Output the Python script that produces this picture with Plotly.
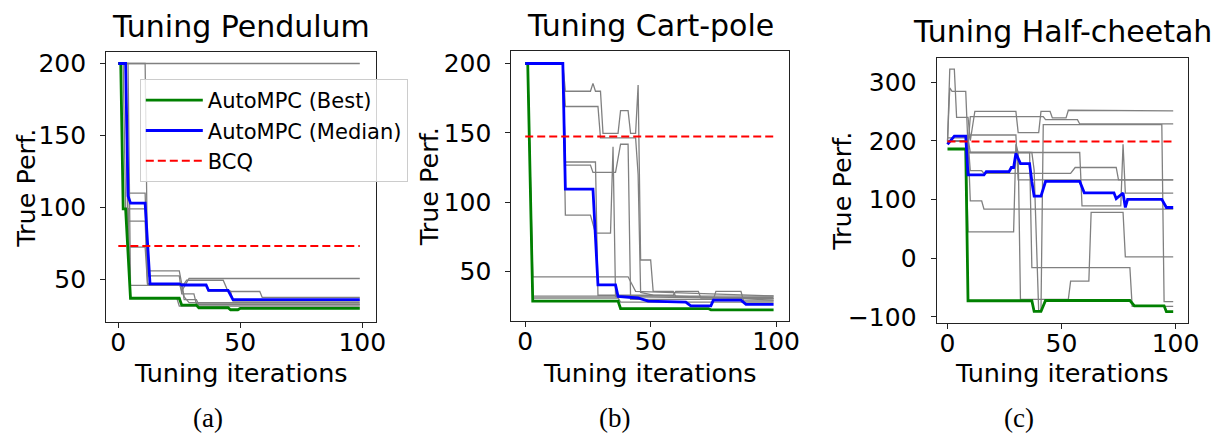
import plotly.graph_objects as go

W, H = 1220, 434

# ---------------- data ----------------
iter_first, iter_last = 0, 99
tick_x = [0, 50, 100]

# Pendulum
pend_best_x = [0, 1, 2, 3, 5, 25, 26, 32, 33, 45, 46, 49, 50, 99]
pend_best_y = [200, 200, 99, 99, 37, 37, 32.2, 32.2, 30.4, 30.4, 29, 29, 30, 30]
pend_med_x = [0, 3, 4, 5, 11, 13, 25, 26, 36, 37, 45, 47, 99]
pend_med_y = [200, 200, 108, 103, 103, 47, 47, 46.2, 46.2, 42.4, 42.4, 36, 36]
pend_bcq = 73.3
pend_runs_x = [
    [0, 99],
    [0, 11, 12, 25, 27, 29, 99],
    [0, 3, 4, 11, 12, 25, 26, 29, 99],
    [0, 3, 4, 11, 12, 27, 28, 43, 45, 58, 59, 99],
    [0, 2, 3, 11, 12, 25, 26, 31, 32, 99],
    [0, 4, 5, 26, 27, 32, 33, 99],
    [0, 1, 2, 4, 5, 24, 25, 99],
    [0, 3, 4, 11, 12, 36, 37, 46, 47, 99],
]
pend_runs_y = [
    [200, 200],
    [200, 200, 56, 56, 38, 34, 34],
    [200, 200, 110, 110, 47, 47, 42, 50.7, 50.7],
    [200, 200, 90.5, 90.5, 47, 47, 49.5, 49.5, 41.7, 41.7, 37.6, 37.6],
    [200, 200, 99, 99, 52.5, 52.5, 40, 40, 33, 33],
    [200, 200, 46, 46, 36, 36, 32.5, 32.5],
    [200, 200, 99, 99, 37, 37, 31.5, 31.5],
    [200, 200, 72.5, 72.5, 46.5, 46.5, 42, 42, 35, 35],
]
pend_yticks = [50, 100, 150, 200]

# Cart-pole
cart_best_x = [0, 1, 3, 37, 38, 73, 74, 99]
cart_best_y = [200, 200, 28.8, 28.8, 23.4, 23.4, 22.5, 22.5]
cart_med_x = [0, 15, 16, 27, 29, 36, 37, 45, 49, 64, 66, 74, 75, 86, 88, 99]
cart_med_y = [200, 200, 109.4, 109.4, 40.4, 40.4, 32.2, 31, 28.8, 28.1, 25.3, 25.3, 29.5, 29.5, 26.4, 26.4]
cart_bcq = 147.4
cart_runs_x = [
    [0, 15, 16, 26, 27, 28, 30, 31, 37, 38, 41, 42, 44, 45, 46, 50, 51, 59, 60, 99],
    [0, 15, 16, 29, 30, 44, 45, 46, 51, 99],
    [0, 15, 16, 28, 29, 59, 60, 69, 70, 99],
    [0, 15, 16, 26, 27, 36, 38, 41, 42, 75, 76, 86, 87, 99],
    [0, 15, 16, 26, 28, 34, 35, 36, 99],
    [0, 1, 3, 41, 44, 99],
    [0, 1, 3, 99],
    [0, 1, 3, 37, 38, 99],
]
cart_runs_y = [
    [200, 200, 180, 180, 185.7, 180, 180, 149.7, 149.7, 166, 166, 149.7, 149.7, 184.5, 58.4, 58.4, 35.8, 35.8, 32, 30.5],
    [200, 200, 169, 169, 146.4, 146.4, 120, 35, 33, 29.5],
    [200, 200, 129, 129, 33, 33, 35.8, 35.8, 31, 31.5],
    [200, 200, 126.8, 126.8, 121.5, 121.5, 141.8, 141.8, 30, 30, 35.8, 35.8, 29, 29],
    [200, 200, 90.7, 90.7, 77.8, 77.8, 140, 32, 30.5],
    [200, 200, 46.3, 46.3, 35.8, 32.5],
    [200, 200, 32.3, 32.3],
    [200, 200, 31, 31, 28, 28],
]
cart_yticks = [50, 100, 150, 200]

# Half-cheetah
chee_best_x = [0, 8, 9, 37, 38, 41, 43, 80, 82, 95, 96, 99]
chee_best_y = [186, 186, -72.4, -72.4, -90.6, -90.6, -72, -72, -81, -81, -91, -91]
chee_med_x = [0, 3, 8, 9, 16, 17, 27, 28, 29, 30, 32, 36, 37, 38, 41, 43, 58, 60, 73, 74, 77, 78, 79, 94, 96, 99]
chee_med_y = [194, 208, 208, 141.8, 141.8, 147.3, 147.3, 154.5, 154.5, 178.8, 161, 161, 130.7, 105.8, 105.8, 130.7, 130.7, 111.3, 111.3, 101.4, 111, 86.4, 100.3, 100.3, 86.4, 86.4]
chee_bcq = 198.7
chee_runs_x = [
    [0, 1, 3, 4, 9, 10, 12, 30, 31, 40, 41, 45, 46, 52, 53, 72, 73, 99],
    [0, 1, 2, 8, 9, 10, 42, 43, 57, 58, 99],
    [0, 8, 9, 29, 30, 31, 32, 53, 54, 62, 63, 77, 78, 99],
    [0, 8, 9, 36, 37, 80, 81, 99],
    [0, 9, 10, 15, 16, 54, 56, 74, 75, 99],
    [0, 9, 10, 15, 16, 99],
    [0, 9, 10, 30, 31, 99],
    [0, 8, 9, 37, 38, 40, 41, 42, 94, 95, 99],
    [0, 9, 10, 58, 59, 76, 77, 78, 99],
]
chee_runs_y = [
    [195, 322, 322, 240, 240, 200, 250, 250, 214, 214, 250, 250, 239, 239, 252, 252, 251, 251],
    [200, 290, 284, 284, 190, 241, 241, 236, 236, 228.6, 228.6],
    [200, 200, 45, 45, 194, 180, -70, -70, -39, -39, 78, 78, 2.3, 2.3],
    [200, 200, 180, 180, -16, -16, -82, -82],
    [200, 200, 149, 149, 144.5, 144.5, 154.5, 154.5, 133.5, 133.5],
    [200, 200, 97.5, 97.5, 83.7, 83.7],
    [200, 200, 209.8, 209.8, 133.5, 133.5],
    [200, 200, 180, 180, 150, -90, -90, 227.5, 227.5, -74, -74],
    [205, 205, 180, 180, 89, 89, 194, 111, 111],
]
chee_yticks = [-100, 0, 100, 200, 300]

titles = ["Tuning Pendulum", "Tuning Cart-pole", "Tuning Half-cheetah"]
captions = ["(a)", "(b)", "(c)"]
series_names = ["AutoMPC (Best)", "AutoMPC (Median)", "BCQ"]
x_label = "Tuning iterations"
y_label = "True Perf."

# ---------------- layout geometry (pixels) ----------------
panels = [
    dict(px=(99, 371), py=(42, 320), xr=[-5.0, 105.5], yr=[20.4, 208.1], ylab_x=18, cap_x=202),
    dict(px=(508, 788), py=(41, 319), xr=[-5.5, 105.1], yr=[14.3, 209.1], ylab_x=425, cap_x=612),
    dict(px=(937, 1191), py=(48, 321), xr=[-4.8, 105.6], yr=[-110.5, 341.5], ylab_x=842, cap_x=1020),
]
data = [
    (pend_runs_x, pend_runs_y, pend_best_x, pend_best_y, pend_med_x, pend_med_y, pend_bcq, pend_yticks),
    (cart_runs_x, cart_runs_y, cart_best_x, cart_best_y, cart_med_x, cart_med_y, cart_bcq, cart_yticks),
    (chee_runs_x, chee_runs_y, chee_best_x, chee_best_y, chee_med_x, chee_med_y, chee_bcq, chee_yticks),
]

FONT = "DejaVu Sans"
fig = go.Figure()
layout = {}
annotations = []

for i, (pan, d) in enumerate(zip(panels, data), start=1):
    runs_x, runs_y, bx, by, mx, my, bcq, yt = d
    xa = "x" if i == 1 else f"x{i}"
    ya = "y" if i == 1 else f"y{i}"
    for rx, ry in zip(runs_x, runs_y):
        fig.add_trace(go.Scatter(x=rx, y=ry, mode="lines", xaxis=xa, yaxis=ya,
                                 line=dict(color="#808080", width=1.3),
                                 showlegend=False, hoverinfo="skip"))
    fig.add_trace(go.Scatter(x=bx, y=by, mode="lines", xaxis=xa, yaxis=ya,
                             name=series_names[0], line=dict(color="#008000", width=2.8),
                             showlegend=(i == 1)))
    fig.add_trace(go.Scatter(x=mx, y=my, mode="lines", xaxis=xa, yaxis=ya,
                             name=series_names[1], line=dict(color="#0000ff", width=2.8),
                             showlegend=(i == 1)))
    fig.add_trace(go.Scatter(x=[iter_first, iter_last], y=[bcq, bcq], mode="lines",
                             xaxis=xa, yaxis=ya, name=series_names[2],
                             line=dict(color="#ff0000", width=2, dash="8px,4px"),
                             showlegend=(i == 1)))

    x0, x1 = pan["px"]
    y0, y1 = pan["py"]
    axis_common = dict(showline=True, linecolor="#222", linewidth=1, mirror=True,
                       ticks="outside", ticklen=5, tickwidth=1, tickcolor="#222",
                       showgrid=False, zeroline=False,
                       tickfont=dict(family=FONT, size=25, color="black"))
    layout["xaxis" if i == 1 else f"xaxis{i}"] = dict(
        domain=[x0 / W, x1 / W], range=pan["xr"], anchor=ya,
        tickvals=tick_x, ticklabelstandoff=-7, **axis_common)
    layout["yaxis" if i == 1 else f"yaxis{i}"] = dict(
        domain=[1 - y1 / H, 1 - y0 / H], range=pan["yr"], anchor=xa,
        tickvals=yt, ticklabelstandoff=9, **axis_common)

    cx = (x0 + x1) / 2
    # title
    annotations.append(dict(text=titles[i - 1], x=cx / W, y=1 - (y0 - 26.5) / H,
                            xref="paper", yref="paper", showarrow=False,
                            xanchor="center", yanchor="middle",
                            font=dict(family=FONT, size=30, color="black")))
    # x label
    annotations.append(dict(text=x_label, x=cx / W, y=1 - 372 / H,
                            xref="paper", yref="paper", showarrow=False,
                            xanchor="center", yanchor="middle",
                            font=dict(family=FONT, size=25.5, color="black")))
    # caption
    annotations.append(dict(text=captions[i - 1], x=pan["cap_x"] / W, y=1 - 419 / H,
                            xref="paper", yref="paper", showarrow=False,
                            xanchor="center", yanchor="middle",
                            font=dict(family="Liberation Serif", size=27, color="black")))
    # y label
    annotations.append(dict(text=y_label, x=pan["ylab_x"] / W, y=1 - ((y0 + y1) / 2 + 1) / H,
                            xref="paper", yref="paper", showarrow=False, textangle=-90,
                            xanchor="center", yanchor="middle",
                            font=dict(family=FONT, size=25.5, color="black")))

fig.update_layout(
    width=W, height=H,
    margin=dict(l=0, r=0, t=0, b=0),
    paper_bgcolor="white", plot_bgcolor="white",
    font=dict(family=FONT, color="black"),
    annotations=annotations,
    legend=dict(x=133 / W, y=1 - 70 / H, xanchor="left", yanchor="top",
                bgcolor="rgba(255,255,255,0.8)", bordercolor="#cccccc", borderwidth=1,
                font=dict(family=FONT, size=21, color="black"), itemwidth=57,
                tracegroupgap=0),
    **layout,
)

fig.write_html("out.html")
